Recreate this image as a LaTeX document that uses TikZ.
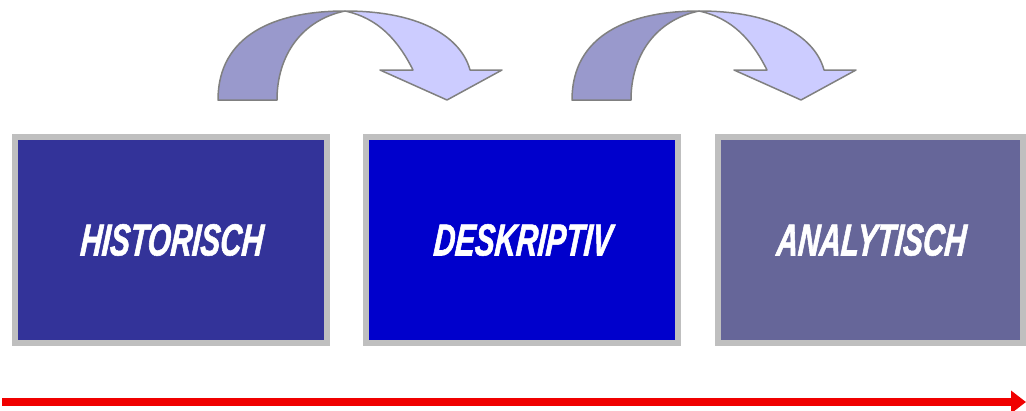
\documentclass[tikz,border=0pt]{standalone}
\usepackage{fontspec}
\usetikzlibrary{arrows.meta, positioning}
\newfontfamily\stagefont[FakeStretch=0.66, FakeSlant=0.08, FakeBold=1.2]{Liberation Sans}
\definecolor{histblue}{RGB}{51,51,153}
\definecolor{deskblue}{RGB}{0,0,204}
\definecolor{analblue}{RGB}{102,102,153}
\definecolor{bendback}{RGB}{153,153,204}
\definecolor{bendfront}{RGB}{204,204,255}
\definecolor{timered}{RGB}{240,0,0}

\begin{document}
\begin{tikzpicture}[x=1pt, y=-1pt, node distance=33pt and 33pt, >=Stealth]
  % Define styles
  \tikzstyle{stage} = [rectangle, minimum width=312pt, minimum height=206pt, text centered, draw=black!25, line width=6pt, text=white, font=\stagefont\bfseries\itshape\fontsize{45}{50}\selectfont]
  \tikzstyle{bendarrow} = [draw=black!50, line width=1.5pt, line join=round]
  \tikzstyle{timeline} = [draw=timered, line width=8pt, -{Triangle[length=15pt, width=22pt]}]

  \useasboundingbox (0,0) rectangle (1026,410);

  % Place nodes
  \node [stage, fill=histblue] (historisch) at (171,240) {HISTORISCH};
  \node [stage, fill=deskblue, right=of historisch] (deskriptiv) {DESKRIPTIV};
  \node [stage, fill=analblue, minimum width=305pt, right=34pt of deskriptiv] (analytisch) {ANALYTISCH};

  % Curved arrows
  \foreach \sx in {0,354} {
    \begin{scope}[xshift=\sx]
      \path [bendarrow, fill=bendback] (218,100) .. controls (218,35) and (275,11) .. (345,11)
        .. controls (302,20) and (277,55) .. (277,100) -- cycle;
      \path [bendarrow, fill=bendfront] (345,11) .. controls (425,11) and (462,40) .. (470,70)
        -- (502,70) -- (447,100) -- (380,70) -- (413,70)
        .. controls (398,40) and (378,18) .. (345,11) -- cycle;
    \end{scope}
  }

  % Draw edges
  \coordinate (timestart) at (2,402);
  \coordinate (timeend) at (1026,402);
  \path [timeline] (timestart) -- (timeend);
\end{tikzpicture}
\end{document}
